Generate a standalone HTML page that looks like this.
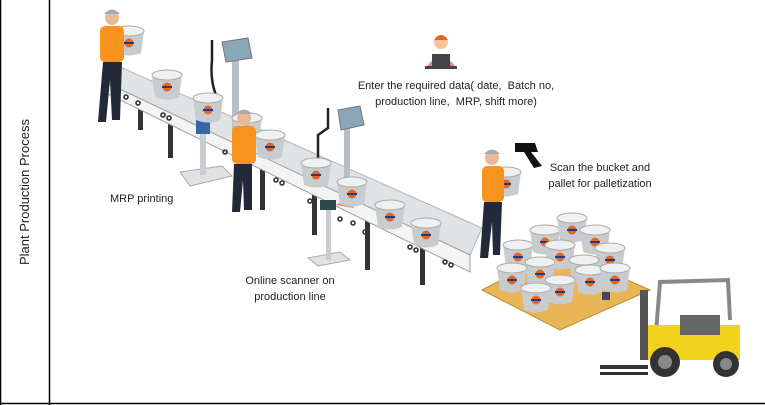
<!DOCTYPE html>
<html><head><meta charset="utf-8"><style>
html,body{margin:0;padding:0;background:#fff}
body{width:765px;height:405px;overflow:hidden;position:relative;font-family:"Liberation Sans",sans-serif}
.t{position:absolute;font-size:11px;color:#222;text-align:center;white-space:nowrap;line-height:16px}
</style></head><body>
<svg width="765" height="405" style="position:absolute;left:0;top:0">
<!-- borders -->
<line x1="0.5" y1="0" x2="0.5" y2="405" stroke="#000" stroke-width="1.5"/>
<line x1="49.5" y1="0" x2="49.5" y2="405" stroke="#000" stroke-width="1.5"/>
<line x1="0" y1="403.5" x2="765" y2="403.5" stroke="#000" stroke-width="1.5"/>
<!-- conveyor legs -->
<g fill="#333">
<rect x="138" y="100" width="5" height="30"/><rect x="168" y="118" width="5" height="40"/>
<rect x="260" y="160" width="5" height="50"/><rect x="312" y="195" width="5" height="40"/>
<rect x="365" y="215" width="5" height="55"/><rect x="420" y="240" width="5" height="45"/>
</g>
<!-- belt -->
<polygon points="118,66 482,228 470,255 105,82" fill="#dfe3e6" stroke="#b0b5ba"/>
<polygon points="105,82 470,255 470,272 108,94" fill="#f4f4f4" stroke="#9aa0a5"/>
<g fill="none" stroke="#333" stroke-width="1.6">
<circle cx="114" cy="92" r="2"/><circle cx="126" cy="97" r="2"/><circle cx="138" cy="103" r="2"/>
<circle cx="163" cy="115" r="2"/><circle cx="169" cy="118" r="2"/><circle cx="225" cy="152" r="2"/>
<circle cx="276" cy="180" r="2"/><circle cx="282" cy="183" r="2"/><circle cx="310" cy="201" r="2"/>
<circle cx="340" cy="219" r="2"/><circle cx="353" cy="223" r="2"/><circle cx="365" cy="232" r="2"/>
<circle cx="410" cy="247" r="2"/><circle cx="416" cy="250" r="2"/><circle cx="445" cy="262" r="2"/><circle cx="451" cy="265" r="2"/>
</g>
<!-- stands -->
<g>
<polygon points="180,172 222,166 232,176 190,186" fill="#dfe2e4" stroke="#aaa"/>
<rect x="200" y="120" width="6" height="55" fill="#c8ccd0"/>
<rect x="232" y="55" width="7" height="85" fill="#b9bec3"/>
<polygon points="222,42 248,38 252,58 226,62" fill="#8aa7b8" stroke="#777"/>
<path d="M212,40 L212,60 Q210,80 216,95" stroke="#222" stroke-width="2.5" fill="none"/>
<rect x="196" y="112" width="14" height="22" fill="#3466a8"/>
<polygon points="308,258 340,252 350,260 318,266" fill="#dfe2e4" stroke="#aaa"/>
<rect x="326" y="205" width="5" height="55" fill="#c8ccd0"/>
<rect x="320" y="200" width="16" height="10" fill="#2e4a47"/>
<polygon points="336,205 350,198 354,208" fill="#e0483a" opacity=".7"/>
<rect x="344" y="120" width="6" height="85" fill="#b9bec3"/>
<polygon points="338,110 360,106 364,125 341,130" fill="#8aa7b8" stroke="#777"/>
<path d="M328,108 L328,128 L318,135 L318,158" stroke="#222" stroke-width="2.5" fill="none"/>
</g>
<!-- buckets on conveyor -->
<defs>
<g id="b"><path d="M-15,0 L-12,22 Q0,27 12,22 L15,0 Z" fill="#c9ccce"/><ellipse cx="0" cy="0" rx="15" ry="5" fill="#eef0f1" stroke="#aaa"/><circle cx="0" cy="12" r="4.5" fill="#e4651f"/><rect x="-5" y="11" width="10" height="2" fill="#1d3d8a"/></g>
</defs>
<use href="#b" x="167" y="75"/><use href="#b" x="208" y="98"/><use href="#b" x="247" y="118"/>
<use href="#b" x="270" y="135"/><use href="#b" x="316" y="163"/><use href="#b" x="352" y="182"/>
<use href="#b" x="390" y="205"/><use href="#b" x="426" y="223"/>
<use href="#b" x="129" y="31"/><use href="#b" x="506" y="172"/>
<!-- pallet -->
<polygon points="482,290 560,250 650,290 560,330" fill="#e9b556" stroke="#b88a30"/>
<g>
<use href="#b" x="518" y="245"/><use href="#b" x="545" y="230"/><use href="#b" x="572" y="218"/><use href="#b" x="595" y="230"/><use href="#b" x="610" y="248"/>
<use href="#b" x="560" y="245"/><use href="#b" x="584" y="260"/><use href="#b" x="540" y="262"/><use href="#b" x="512" y="268"/>
<use href="#b" x="560" y="280"/><use href="#b" x="536" y="288"/><use href="#b" x="590" y="270"/><use href="#b" x="615" y="268"/>
</g>
<rect x="602" y="292" width="8" height="8" fill="#446"/>
<!-- workers -->
<g>
<circle cx="112" cy="18" r="7" fill="#e9b894"/><path d="M104,14 Q112,5 120,14Z" fill="#aaa"/>
<rect x="100" y="26" width="24" height="36" rx="5" fill="#f7931e"/>
<polygon points="103,62 122,62 120,120 112,120 110,80 106,122 98,122" fill="#24293a"/>
<circle cx="244" cy="118" r="7" fill="#e9b894"/><path d="M236,114 Q244,105 252,114Z" fill="#aaa"/>
<rect x="232" y="126" width="24" height="38" rx="5" fill="#f7931e"/>
<polygon points="234,164 252,164 252,210 244,210 243,180 240,212 232,212" fill="#24293a"/>
<circle cx="492" cy="158" r="7" fill="#e9b894"/><path d="M484,154 Q492,145 500,154Z" fill="#aaa"/>
<rect x="482" y="166" width="22" height="36" rx="5" fill="#f7931e"/>
<polygon points="484,202 502,202 500,255 493,255 492,222 488,258 480,258" fill="#24293a"/>
</g>
<!-- scanner gun -->
<polygon points="515,143 535,143 538,152 531,152 542,166 534,168 524,152 515,152" fill="#111"/>
<!-- computer person -->
<circle cx="441" cy="42" r="7" fill="#f6c49b"/><path d="M434,40 Q441,30 448,40Z" fill="#e4651f"/>
<path d="M427,66 Q441,48 455,66Z" fill="#e48a9a"/>
<rect x="432" y="54" width="18" height="12" fill="#444"/><rect x="425" y="66" width="32" height="3" fill="#444"/>
<!-- forklift -->
<g>
<rect x="640" y="290" width="8" height="70" fill="#555"/>
<rect x="600" y="365" width="48" height="4" fill="#333"/><rect x="600" y="372" width="48" height="3" fill="#333"/>
<polyline points="655,345 660,282 728,280 730,320" fill="none" stroke="#888" stroke-width="4"/>
<rect x="648" y="325" width="92" height="35" fill="#f1d21c"/>
<rect x="680" y="315" width="40" height="20" fill="#666"/>
<circle cx="665" cy="362" r="15" fill="#333"/><circle cx="665" cy="362" r="7" fill="#888"/>
<circle cx="726" cy="364" r="13" fill="#333"/><circle cx="726" cy="364" r="6" fill="#888"/>
</g>
</svg>
<div class="t" style="left:0;top:192px;width:50px;height:16px;transform:rotate(-90deg);transform-origin:center;font-size:13px;left:-40px;width:130px;">Plant Production Process</div>
<div class="t" style="left:356px;top:78px;width:200px">Enter the required data( date,&nbsp; Batch no,<br>production line,&nbsp; MRP, shift more)</div>
<div class="t" style="left:110px;top:191px;width:70px;text-align:left">MRP printing</div>
<div class="t" style="left:230px;top:273px;width:120px">Online scanner on<br>production line</div>
<div class="t" style="left:540px;top:160px;width:120px">Scan the bucket and<br>pallet for palletization</div>
</body></html>
